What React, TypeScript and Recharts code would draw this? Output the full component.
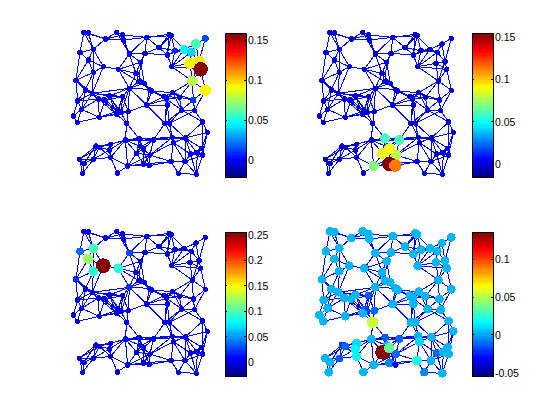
import {
  ComposedChart,
  Line,
  Scatter,
  XAxis,
  YAxis,
  ReferenceArea,
} from 'recharts';

// node coordinates, graph units (same graph in all four panels)
const nodeX = [
  72, 85, 136, 170, 187, 190, 260, 328, 333, 60,
  100, 208, 255, 297, 322, 345, 372, 394, 408, 436,
  85, 130, 100, 175, 242, 228, 335, 390, 417, 422,
  397, 48, 237, 253, 436, 76, 97, 208, 268, 275,
  338, 312, 320, 358, 400, 53, 115, 135, 148, 188,
  65, 260, 322, 365, 404, 175, 183, 205, 170, 118,
  40, 52, 200, 315, 328, 428, 442, 237, 196, 280,
  337, 376, 340, 425, 108, 118, 152, 242, 148, 230,
  270, 250, 392, 428, 412, 58, 100, 72, 152, 203,
  250, 268, 333, 375, 68, 172, 355, 409,
];
const nodeY = [
  37, 39, 57, 37, 45, 60, 52, 43, 47, 97,
  88, 102, 100, 83, 105, 92, 88, 97, 72, 55,
  120, 140, 157, 148, 127, 160, 140, 130, 125, 148,
  183, 181, 185, 190, 211, 210, 220, 205, 208, 213,
  218, 230, 238, 232, 240, 243, 237, 240, 228, 230,
  268, 255, 255, 270, 272, 272, 278, 275, 283, 292,
  288, 307, 310, 310, 310, 306, 337, 355, 360, 360,
  352, 354, 368, 385, 378, 382, 373, 380, 390, 400,
  405, 387, 402, 405, 400, 418, 418, 430, 412, 438,
  432, 437, 425, 425, 460, 459, 460, 463,
];

const edges: [number, number][] = [
  [0, 1], [0, 9], [0, 10], [1, 10], [1, 2], [0, 2], [2, 3], [2, 4], [2, 5], [3, 4], [3, 5], [4, 5],
  [9, 10], [10, 20], [9, 20], [2, 10], [10, 21], [20, 21], [20, 22], [21, 22], [21, 23], [10, 22],
  [4, 6], [5, 6], [5, 11], [4, 11], [3, 11], [6, 11], [6, 12], [6, 13], [6, 7], [6, 8], [11, 12],
  [12, 13], [12, 24], [11, 24], [11, 23], [23, 24], [11, 25], [23, 25], [24, 25],
  [7, 8], [7, 13], [8, 13], [7, 14], [8, 14], [8, 15], [13, 14], [13, 15], [12, 14], [14, 15],
  [14, 26], [15, 26], [15, 16], [8, 16], [16, 17], [15, 17], [14, 16], [17, 26], [26, 27], [26, 29],
  [16, 18], [17, 18], [18, 19], [18, 28], [17, 28], [17, 27], [27, 28], [28, 29], [27, 29], [29, 30],
  [28, 30], [27, 30], [29, 34], [30, 34], [19, 28], [16, 26], [26, 30],
  [22, 31], [9, 31], [20, 31], [31, 35], [22, 35], [22, 36], [31, 36], [31, 45], [21, 36],
  [23, 37], [23, 32], [25, 32], [25, 33], [24, 32], [24, 33], [32, 33], [32, 37], [33, 37], [25, 37],
  [33, 38], [32, 38], [37, 38], [38, 39], [39, 40], [38, 41], [39, 41], [37, 49], [37, 57], [37, 56],
  [37, 51], [33, 39], [40, 41], [40, 42], [40, 43], [41, 42], [41, 43], [42, 43], [43, 44], [40, 44],
  [30, 40], [30, 44], [30, 43], [34, 44], [34, 54], [44, 54], [44, 53], [53, 54], [43, 53], [42, 53],
  [40, 53], [41, 52], [42, 52], [41, 51], [42, 51], [39, 51], [38, 51], [39, 42], [51, 52], [51, 57],
  [51, 63], [52, 63], [52, 64], [63, 64], [42, 63], [53, 64], [53, 63], [54, 64], [54, 65], [53, 65],
  [35, 36], [36, 46], [36, 37], [36, 48], [37, 48], [35, 45], [35, 46], [35, 47], [36, 45], [36, 50],
  [45, 50], [45, 60], [50, 60], [50, 61], [60, 61], [45, 46], [46, 47], [47, 48], [46, 48], [47, 49],
  [48, 49], [46, 50], [46, 59], [47, 59], [50, 59], [59, 61], [35, 50], [46, 55], [47, 55], [47, 56],
  [48, 55], [48, 56], [48, 58], [49, 55], [49, 56], [49, 57], [55, 56], [55, 57], [56, 57], [56, 58],
  [55, 58], [58, 59], [55, 59], [56, 59], [56, 62], [57, 62], [58, 62], [46, 58], [47, 58], [49, 58],
  [46, 56], [36, 49],
  [62, 68], [62, 67], [63, 69], [63, 70], [64, 70], [64, 71], [64, 72], [65, 66], [65, 71], [66, 73],
  [66, 83], [66, 71], [65, 83], [67, 68], [67, 69], [68, 69], [69, 70], [68, 70], [69, 71], [70, 71],
  [67, 77], [67, 81], [69, 80], [69, 81], [69, 77], [70, 72], [71, 72], [70, 80], [72, 80], [72, 92],
  [71, 73], [71, 84], [71, 82], [71, 93], [72, 93], [72, 82], [73, 83], [73, 84], [73, 82], [82, 83],
  [82, 84], [83, 84], [82, 93], [84, 97], [83, 97], [82, 97], [93, 97], [93, 96], [92, 93], [92, 96],
  [96, 97], [80, 92], [91, 92], [80, 91], [80, 90], [80, 81], [77, 81], [79, 81], [77, 79], [79, 80],
  [77, 80], [79, 90], [90, 91], [89, 90], [89, 91], [79, 89], [88, 89], [81, 90], [81, 91], [68, 77],
  [68, 79], [68, 78], [68, 88], [68, 89], [68, 76], [67, 79], [76, 78], [74, 76], [75, 76], [76, 88],
  [74, 75], [74, 85], [74, 86], [75, 85], [75, 86], [75, 78], [75, 88], [78, 88], [74, 87], [85, 86],
  [85, 87], [85, 94], [86, 87], [87, 94], [86, 88], [78, 86], [88, 95], [89, 95], [86, 94], [90, 92],
  [80, 89], [93, 83],
];

// graph signal on the nodes, anything not listed sits at the base value
const signalA: Record<number, number> = {
  29: 0.159, 27: 0.092, 28: 0.095, 34: 0.093, 30: 0.078, 18: 0.06, 16: 0.046, 17: 0.04, 15: 0.008, 19: 0.014, 44: 0.01,
};
const signalB: Record<number, number> = {
  90: 0.154, 91: 0.112, 79: 0.087, 81: 0.09, 80: 0.078, 89: 0.07, 67: 0.061, 69: 0.061,
};
const signalC: Record<number, number> = {
  21: 0.256, 20: 0.12, 10: 0.097, 22: 0.09, 23: 0.09, 9: 0.035, 11: 0.026, 31: 0.02, 37: 0.02,
};
const signalD: Record<number, number> = {
  79: 0.136, 62: 0.055, 81: 0.035, 92: 0.02, 78: 0.015, 88: 0.016, 76: 0.01, 72: 0.01,
  67: -0.015, 91: -0.03, 90: -0.005, 80: -0.012, 69: -0.01, 74: -0.02, 75: -0.01, 86: -0.015,
  49: -0.015, 55: -0.015, 56: -0.02, 57: -0.01, 96: -0.005, 82: -0.01,
};

const ticksA = [0, 0.05, 0.1, 0.15];
const ticksB = [0, 0.05, 0.1, 0.15];
const ticksC = [0, 0.05, 0.1, 0.15, 0.2, 0.25];
const ticksD = [-0.05, 0, 0.05, 0.1];

const colorLevels = Array.from({ length: 64 }, (_, i) => i);

function jet(level: number) {
  const t = (level + 0.5) / 64;
  const ch = (c: number) => Math.round(255 * Math.max(0, Math.min(1, 1.5 - Math.abs(4 * t - c))));
  return `rgb(${ch(3)},${ch(2)},${ch(1)})`;
}

function colorFor(value: number, lo: number, hi: number) {
  const level = Math.floor(((value - lo) / (hi - lo)) * 64);
  return jet(Math.max(0, Math.min(63, level)));
}

const edgeRows = edges.flatMap(([a, b]) => [
  { x: nodeX[a], y: nodeY[a] },
  { x: nodeX[b], y: nodeY[b] },
  { x: nodeX[b], y: null },
]);

interface PanelProps {
  signal: Record<number, number>;
  base: number;
  lo: number;
  hi: number;
  ticks: number[];
  rSquared: [number, number];
  graphLeft: number;
  graphTop: number;
  barLeft: number;
  barTop: number;
}

function Panel({ signal, base, lo, hi, ticks, rSquared, graphLeft, graphTop, barLeft, barTop }: PanelProps) {
  const rows = nodeX.map((x, i) => ({ x, y: nodeY[i], value: signal[i] ?? base }));
  const step = (hi - lo) / 64;
  const barRows = colorLevels.map((level) => ({ x: 0.5, y: lo + (level + 0.5) * step }));

  // marker area grows linearly with the value
  const dot = (props: any) => {
    const v = props.payload.value;
    const r2 = rSquared[0] + ((v - lo) / (hi - lo)) * (rSquared[1] - rSquared[0]);
    return <circle cx={props.cx} cy={props.cy} r={Math.sqrt(r2)} fill={colorFor(v, lo, hi)} />;
  };

  const tick = (props: any) => (
    <g>
      <line x1={props.x - 2} x2={props.x} y1={props.y} y2={props.y} stroke="#000" />
      <line x1={props.x - 21} x2={props.x - 19} y1={props.y} y2={props.y} stroke="#000" />
      <text x={props.x + 2} y={props.y + 4} fontSize={10.5} fill="#000" fontFamily="Liberation Sans">
        {props.payload.value}
      </text>
    </g>
  );

  return (
    <>
      <div style={{ position: 'absolute', left: graphLeft, top: graphTop }}>
        <ComposedChart width={160} height={160} margin={{ top: 0, right: 0, bottom: 0, left: 0 }}>
          <XAxis hide type="number" dataKey="x" domain={[0, 480]} />
          <YAxis hide type="number" dataKey="y" domain={[0, 480]} reversed />
          <Line
            data={edgeRows}
            dataKey="y"
            type="linear"
            stroke="#0000ff"
            strokeWidth={1}
            dot={false}
            activeDot={false}
            isAnimationActive={false}
          />
          <Scatter data={rows} shape={dot} isAnimationActive={false} />
        </ComposedChart>
      </div>
      <div style={{ position: 'absolute', left: barLeft, top: barTop - 10 }}>
        <ComposedChart width={71} height={164} margin={{ top: 10, right: 0, bottom: 10, left: 0 }}>
          <XAxis hide type="number" dataKey="x" domain={[0, 1]} />
          <YAxis
            orientation="right"
            type="number"
            dataKey="y"
            width={50}
            domain={[lo, hi]}
            ticks={ticks}
            interval={0}
            axisLine={false}
            tickLine={false}
            tickSize={0}
            tickMargin={0}
            tick={tick}
          />
          <Scatter data={barRows} shape={() => <g />} isAnimationActive={false} />
          {colorLevels.map((level) => (
            <ReferenceArea
              key={level}
              x1={0}
              x2={1}
              y1={lo + level * step}
              y2={lo + (level + 1) * step}
              fill={jet(level)}
              fillOpacity={1}
              stroke="none"
            />
          ))}
          <ReferenceArea x1={0} x2={1} y1={lo} y2={hi} fill="none" stroke="#000" strokeWidth={1} />
        </ComposedChart>
      </div>
    </>
  );
}

export default function App() {
  return (
    <div
      style={{
        position: 'absolute',
        left: 0,
        top: 0,
        width: 560,
        height: 420,
        background: '#fff',
        shapeRendering: 'crispEdges',
      }}
    >
      <Panel signal={signalA} base={0} lo={-0.021} hi={0.159} ticks={ticksA} rSquared={[1.3, 52.6]} graphLeft={60} graphTop={20} barLeft={225} barTop={33} />
      <Panel signal={signalB} base={0} lo={-0.0153} hi={0.1544} ticks={ticksB} rSquared={[3, 51]} graphLeft={306} graphTop={20} barLeft={472} barTop={33} />
      <Panel signal={signalC} base={0} lo={-0.0275} hi={0.256} ticks={ticksC} rSquared={[2.3, 54]} graphLeft={60} graphTop={219} barLeft={225} barTop={232} />
      <Panel signal={signalD} base={0.003} lo={-0.0544} hi={0.136} ticks={ticksD} rSquared={[3.3, 54.7]} graphLeft={306} graphTop={219} barLeft={472} barTop={232} />
    </div>
  );
}
